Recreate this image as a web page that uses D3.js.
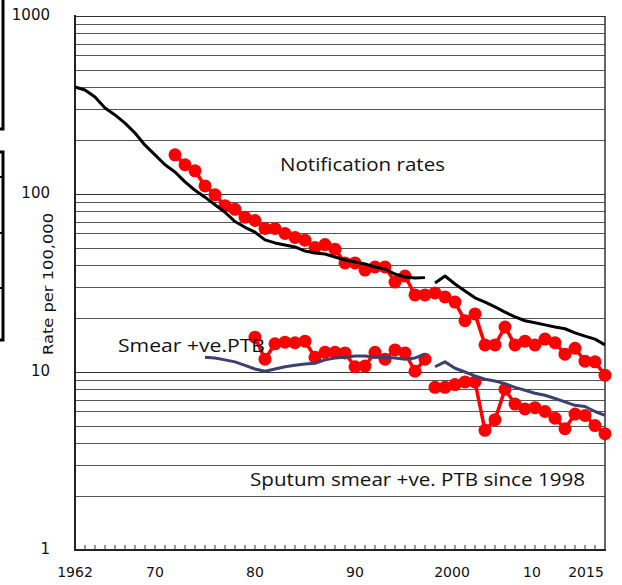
<!DOCTYPE html>
<html>
<head>
<meta charset="utf-8">
<script src="https://cdn.jsdelivr.net/npm/d3@7"></script>
<style>
  html, body { margin: 0; padding: 0; background: #fff; }
  svg { display: block; }
</style>
</head>
<body>
<svg id="chart" width="622" height="585"></svg>
<script>
// ---------------- DATA ----------------
const firstYear = 1962;
const lastYear = 2015;

// Notification rate, all TB (black line), two segments
const allTbYears1 = d3.range(1962, 1998);
const allTbValues1 = [399, 384, 351, 304, 278, 250, 220, 188, 166, 146,
                      133, 117, 105, 96, 87, 79, 70, 65, 61, 55.2,
                      53.1, 51.7, 50.4, 47.8, 46.6, 46.0, 44.3, 42.6, 41.5, 40.4,
                      38.9, 37.9, 35.5, 34.2, 33.7, 33.9];
const allTbYears2 = d3.range(1998, 2016);
const allTbValues2 = [31.6, 34.6, 31.2, 28.5, 26.1, 24.7, 23.2, 21.7, 20.4, 19.4,
                      18.9, 18.4, 17.9, 17.5, 16.6, 15.9, 15.3, 14.2];

// Notification rate, red dots (upper)
const notifYears = d3.range(1972, 2016);
const notifValues = [166, 146, 135, 111, 99, 86, 82, 74, 71, 64,
                     64, 60, 57, 55, 50, 52, 49, 41, 41, 37.4,
                     38.9, 38.9, 32, 34.6, 27.1, 27.1, 27.8, 26.4, 24.7, 19.4,
                     21.2, 14.2, 14.2, 17.9, 14.2, 14.9, 14.2, 15.3, 14.6, 12.6,
                     13.6, 11.5, 11.4, 9.6];

// Smear +ve PTB (red dots, 1980-1997)
const smearYears = d3.range(1980, 1998);
const smearValues = [15.7, 11.8, 14.4, 14.7, 14.6, 14.9, 12.1, 12.9, 12.9, 12.8,
                     10.7, 10.8, 12.9, 11.8, 13.3, 12.8, 10.1, 11.8];

// Sputum smear +ve PTB since 1998 (red dots)
const sputumYears = d3.range(1998, 2016);
const sputumValues = [8.2, 8.2, 8.5, 8.8, 8.8, 4.7, 5.4, 8.0, 6.6, 6.2,
                      6.3, 6.0, 5.5, 4.8, 5.8, 5.7, 5.0, 4.5];

// Smear +ve comparison line (dark blue), two segments
const blueYears1 = d3.range(1975, 1998);
const blueValues1 = [12.1, 12.0, 11.7, 11.4, 10.9, 10.4, 10.1, 10.4, 10.7, 10.9,
                     11.1, 11.2, 11.7, 12.0, 12.1, 12.3, 12.3, 12.1, 12.1, 12.0,
                     11.8, 12.0, 12.6];
const blueYears2 = d3.range(1998, 2016);
const blueValues2 = [10.7, 11.4, 10.5, 10.0, 9.5, 9.1, 8.9, 8.6, 8.2, 7.9,
                     7.6, 7.4, 7.1, 6.8, 6.5, 6.4, 6.0, 5.7];

// Axis labels
const yTickValues = [1, 10, 100, 1000];
const yTickLabels = ["1", "10", "100", "1000"];
const xLabelYears = [1962, 1970, 1980, 1990, 2000, 2010, 2015];
const xLabelTexts = ["1962", "70", "80", "90", "2000", "10", "2015"];

const annotations = ["Notification rates", "Smear +ve.PTB", "Sputum smear +ve. PTB since 1998"];
const yTitle = "Rate per 100,000";

// ---------------- CHART ----------------
const svg = d3.select("#chart");
const pLeft = 75, pRight = 605, pTop = 16, pBottom = 550;

const x = d3.scaleLinear().domain([firstYear, lastYear]).range([pLeft, pRight]);
const y = d3.scaleLog().domain([1, 1000]).range([pBottom, pTop]);

const zip = (ys, vs) => ys.map((yr, i) => ({ year: yr, value: vs[i] }));

// Left-edge fragments of a neighbouring panel (cropped)
const frag = svg.append("g").attr("stroke", "#000").attr("fill", "none").attr("stroke-width", 3);
frag.append("path").attr("d", "M3,0 V129 H0");
frag.append("path").attr("d", "M0,152 H3 V340 H0");
[177, 233, 288].forEach(v => frag.append("line").attr("x1", 0).attr("x2", 3).attr("y1", v).attr("y2", v).attr("stroke-width", 2));

// Gridlines
const gridVals = y.ticks().filter(v => v > 1);
svg.append("g").selectAll("line").data(gridVals).join("line")
  .attr("x1", pLeft).attr("x2", pRight)
  .attr("y1", d => Math.round(y(d)) + 0.5).attr("y2", d => Math.round(y(d)) + 0.5)
  .attr("stroke", d => yTickValues.includes(d) ? "#333" : "#555")
  .attr("stroke-width", 1.2);

// Frame
svg.append("line").attr("x1", pRight).attr("x2", pRight).attr("y1", pTop).attr("y2", pBottom)
  .attr("stroke", "#333").attr("stroke-width", 1.5);
svg.append("line").attr("x1", pLeft).attr("x2", pLeft).attr("y1", pTop - 1).attr("y2", pBottom + 1)
  .attr("stroke", "#222").attr("stroke-width", 2);
svg.append("line").attr("x1", pLeft - 1).attr("x2", pRight + 1).attr("y1", pBottom).attr("y2", pBottom)
  .attr("stroke", "#222").attr("stroke-width", 2);

// Minor year ticks (inside)
const tickYears = d3.range(firstYear + 1, lastYear);
svg.append("g").selectAll("line").data(tickYears).join("line")
  .attr("x1", d => x(d)).attr("x2", d => x(d))
  .attr("y1", pBottom).attr("y2", pBottom - 5)
  .attr("stroke", "#333").attr("stroke-width", 1);

// Y labels
svg.append("g").selectAll("text").data(yTickValues).join("text")
  .attr("x", 50).attr("y", d => y(d) - 1.5).attr("dy", "0.35em")
  .attr("text-anchor", "end")
  .attr("font-family", "DejaVu Sans, Verdana, sans-serif").attr("font-size", 15)
  .attr("fill", "#111")
  .text((d, i) => yTickLabels[i]);

// X labels (the last two are nudged left, as in the original)
const xNudge = [0, 0, 0, 0, -3, -23, -19];
svg.append("g").selectAll("text").data(xLabelYears).join("text")
  .attr("x", (d, i) => x(d) + xNudge[i]).attr("y", 577)
  .attr("text-anchor", "middle")
  .attr("font-family", "DejaVu Sans, Verdana, sans-serif").attr("font-size", 14)
  .attr("fill", "#111")
  .text((d, i) => xLabelTexts[i]);

// Y title
svg.append("text")
  .attr("transform", "translate(53,284) rotate(-90)")
  .attr("text-anchor", "middle")
  .attr("font-family", "DejaVu Sans, Verdana, sans-serif").attr("font-size", 14)
  .attr("textLength", 142).attr("lengthAdjust", "spacingAndGlyphs")
  .attr("fill", "#111")
  .text(yTitle);

// Series
const line = d3.line().x(d => x(d.year)).y(d => y(d.value));
const red = "#ff0000";

function redSeries(data) {
  const g = svg.append("g");
  g.append("path").datum(data).attr("d", line)
    .attr("fill", "none").attr("stroke", red).attr("stroke-width", 3.5).attr("stroke-linejoin", "round");
  g.selectAll("circle").data(data).join("circle")
    .attr("cx", d => x(d.year)).attr("cy", d => y(d.value)).attr("r", 6.5)
    .attr("fill", red);
}
redSeries(zip(notifYears, notifValues));
redSeries(zip(smearYears, smearValues));
redSeries(zip(sputumYears, sputumValues));

function plainLine(data, color) {
  svg.append("path").datum(data).attr("d", line)
    .attr("fill", "none").attr("stroke", color).attr("stroke-width", 3)
    .attr("stroke-linejoin", "round");
}
plainLine(zip(allTbYears1, allTbValues1), "#000");
plainLine(zip(allTbYears2, allTbValues2), "#000");
plainLine(zip(blueYears1, blueValues1), "#3b4070");
plainLine(zip(blueYears2, blueValues2), "#3b4070");

// Annotations
const annPos = [[280, 171, 165], [118, 352, 147], [250, 486, 335]];
svg.append("g").selectAll("text").data(annotations).join("text")
  .attr("x", (d, i) => annPos[i][0]).attr("y", (d, i) => annPos[i][1])
  .attr("textLength", (d, i) => annPos[i][2]).attr("lengthAdjust", "spacingAndGlyphs")
  .attr("font-family", "Open Sans, sans-serif").attr("font-size", 19)
  .attr("fill", "#111")
  .text(d => d);
</script>
</body>
</html>
